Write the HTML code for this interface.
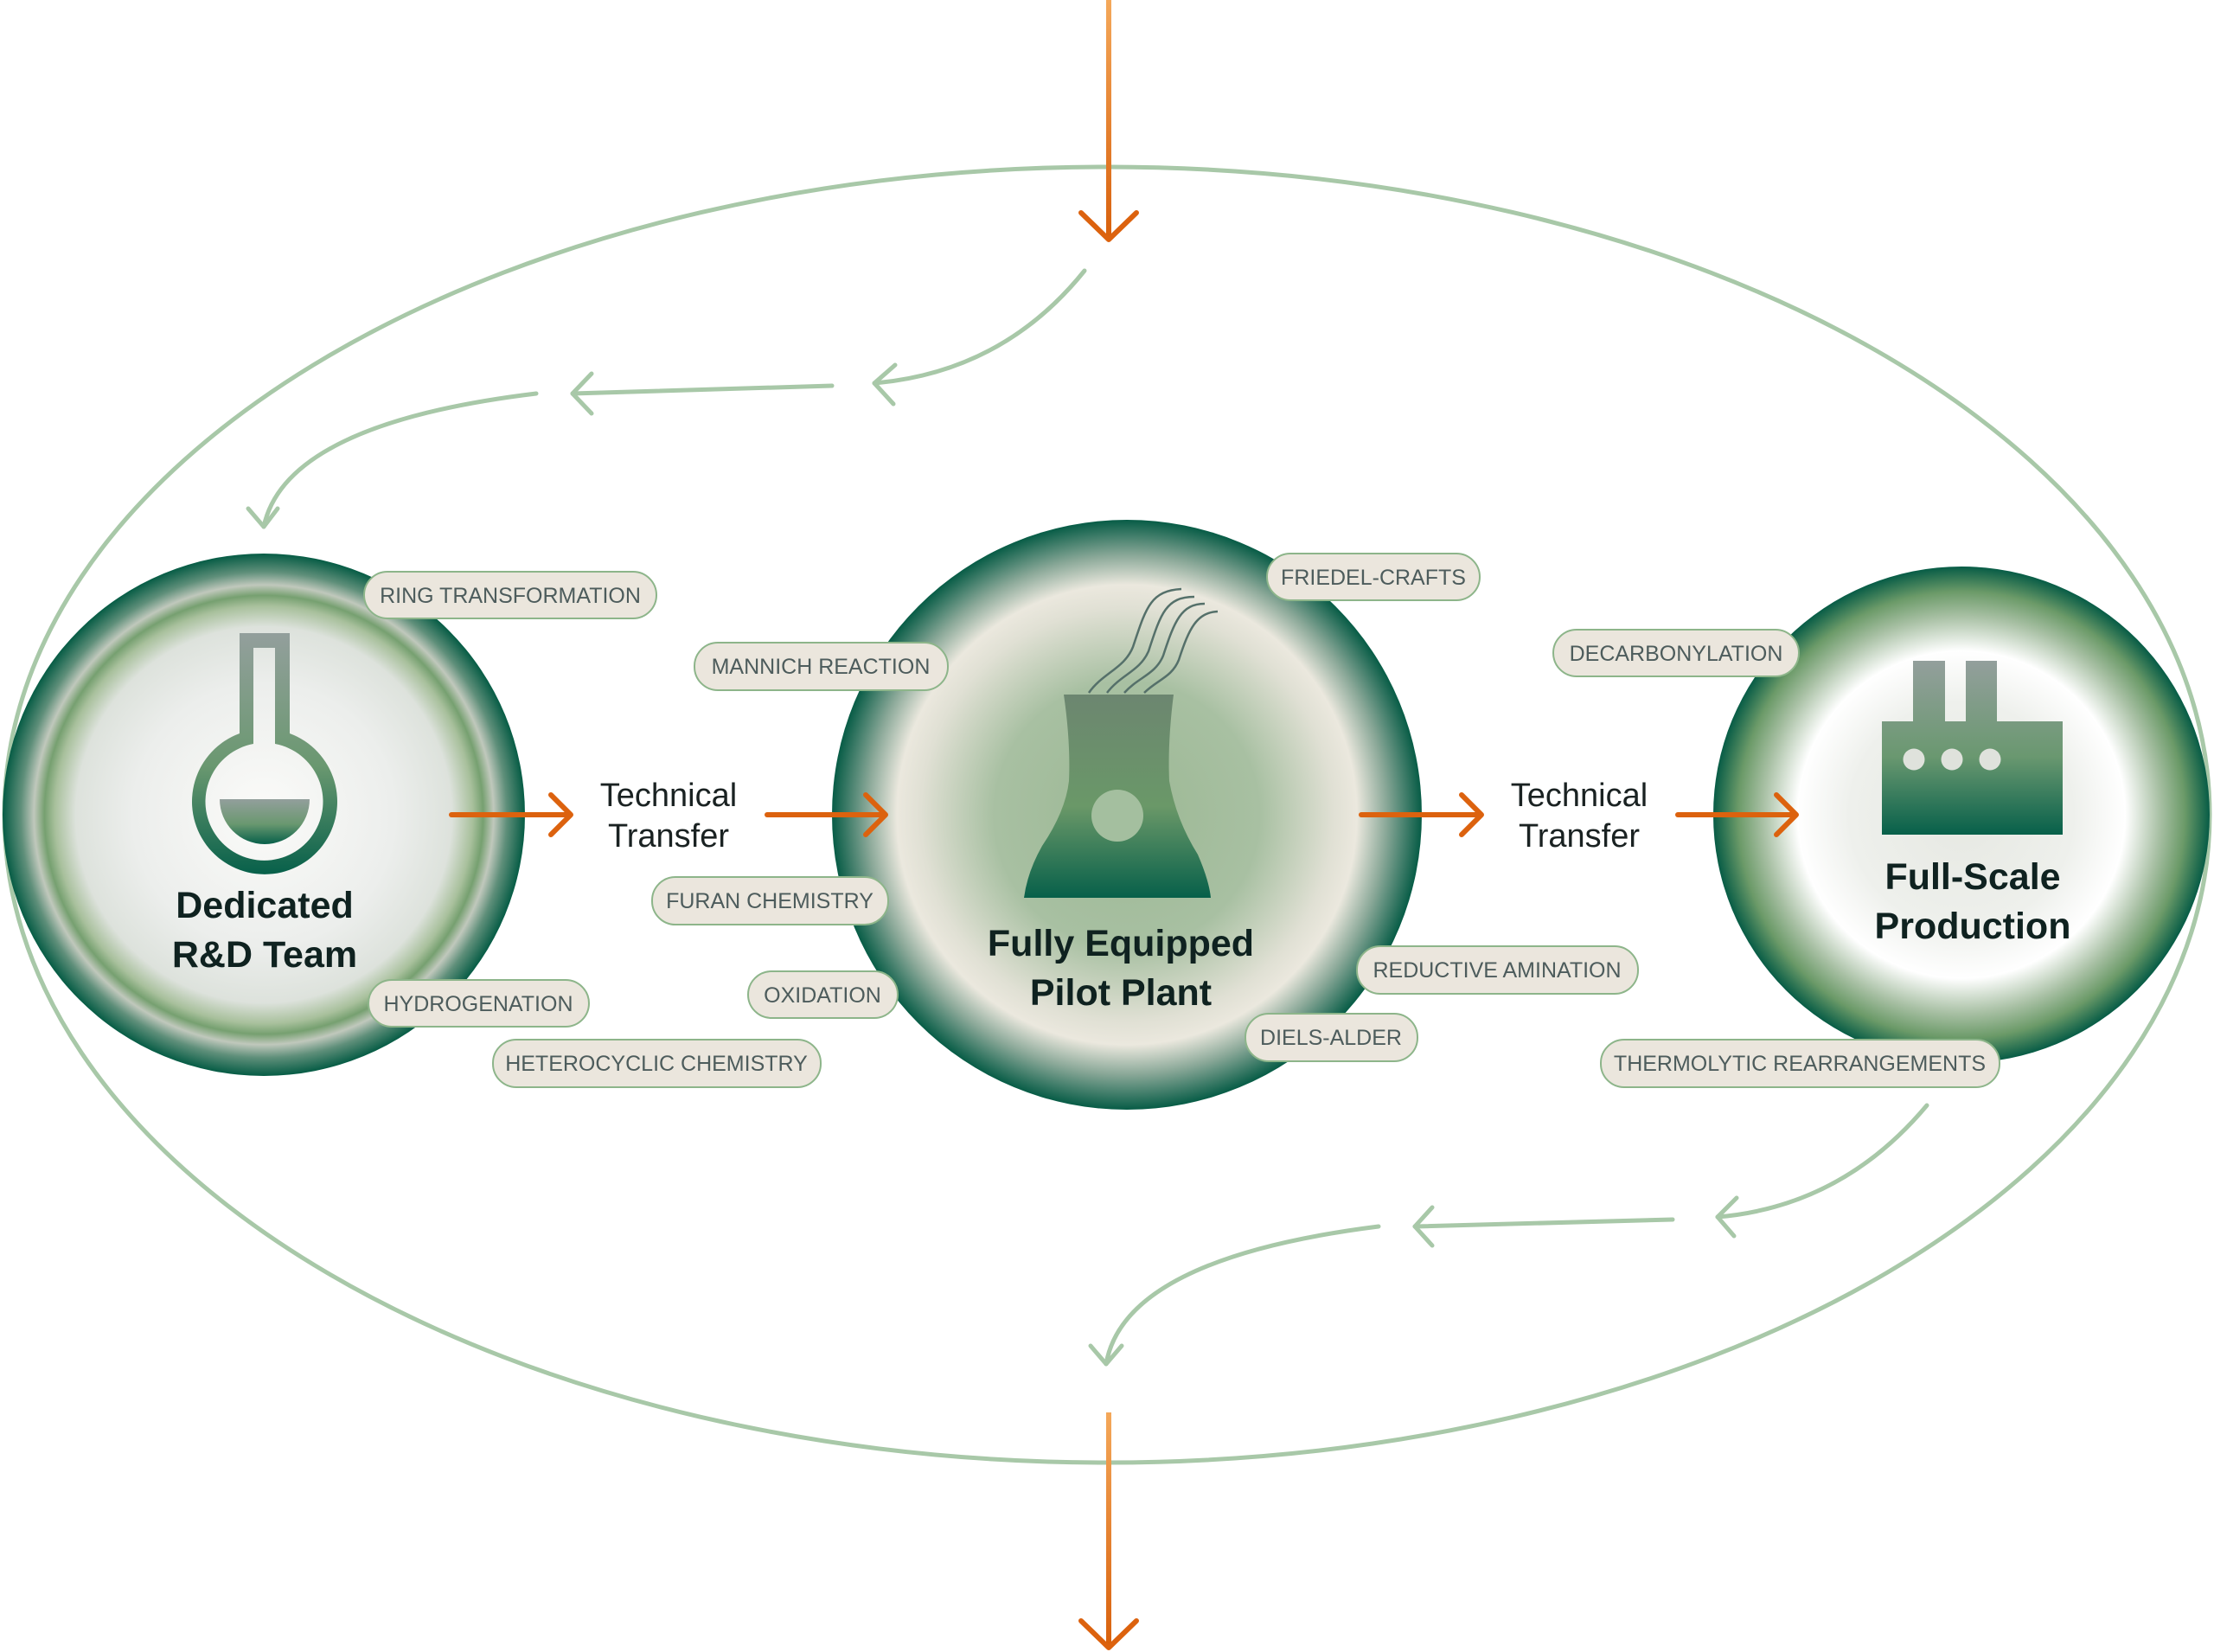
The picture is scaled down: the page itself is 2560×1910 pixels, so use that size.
<!DOCTYPE html>
<html><head><meta charset="utf-8"><style>
html,body{margin:0;padding:0;background:#fff;}
svg{display:block;}
text{font-family:"Liberation Sans",sans-serif;}
.p{fill:#ebe6dd;stroke:#8db58a;stroke-width:2;}
.pt{font-size:25px;fill:#4d5c5c;text-anchor:middle;}
.t{font-size:43px;font-weight:bold;fill:#0f2220;text-anchor:middle;}
.tt{font-size:38px;fill:#1a2222;text-anchor:middle;}
.g{fill:none;stroke:#a8c8a8;stroke-width:5;stroke-linecap:round;stroke-linejoin:round;}
.o{fill:none;stroke:#dc620e;stroke-width:6;stroke-linecap:round;stroke-linejoin:round;}
</style></head><body>
<svg width="2560" height="1910" viewBox="0 0 2560 1910" xmlns="http://www.w3.org/2000/svg">
<defs>
<radialGradient id="cL" cx="0.5" cy="0.5" r="0.5">
<stop offset="0" stop-color="#fbfbf9"/><stop offset="0.5" stop-color="#eceeec"/><stop offset="0.72" stop-color="#dde2dc"/>
<stop offset="0.8" stop-color="#a8c09c"/><stop offset="0.84" stop-color="#76a070"/><stop offset="0.88" stop-color="#c0c8bc"/>
<stop offset="0.93" stop-color="#5f8f7a"/><stop offset="1" stop-color="#065c45"/></radialGradient>
<radialGradient id="cC" cx="0.5" cy="0.5" r="0.5">
<stop offset="0" stop-color="#9cb894"/><stop offset="0.45" stop-color="#a8c0a2"/><stop offset="0.7" stop-color="#e0e0d4"/>
<stop offset="0.78" stop-color="#ebe8de"/><stop offset="0.88" stop-color="#8aa898"/><stop offset="1" stop-color="#075c46"/></radialGradient>
<radialGradient id="cR" cx="0.5" cy="0.5" r="0.5">
<stop offset="0" stop-color="#e6e8e2"/><stop offset="0.45" stop-color="#eef0ec"/><stop offset="0.66" stop-color="#ffffff"/>
<stop offset="0.8" stop-color="#a8c0a4"/><stop offset="0.9" stop-color="#6b9a68"/><stop offset="1" stop-color="#075c46"/></radialGradient>
<linearGradient id="ic" x1="0" y1="0" x2="0" y2="1">
<stop offset="0" stop-color="#939f9c"/><stop offset="0.55" stop-color="#6a9870"/><stop offset="1" stop-color="#07604a"/></linearGradient>
<linearGradient id="icT" x1="0" y1="0" x2="0" y2="1">
<stop offset="0" stop-color="#6c8670"/><stop offset="0.55" stop-color="#6a9868"/><stop offset="1" stop-color="#07604a"/></linearGradient>
<linearGradient id="or" x1="0" y1="0" x2="0" y2="1">
<stop offset="0" stop-color="#f4a85a"/><stop offset="1" stop-color="#d8600c"/></linearGradient>
</defs>

<ellipse cx="1280" cy="942" rx="1275" ry="749" fill="none" stroke="#a8c8a8" stroke-width="5"/>

<rect x="1279" y="0" width="6" height="276" fill="url(#or)"/>
<polyline class="o" points="1250,246 1282,277 1314,246"/>
<rect x="1279" y="1633" width="6" height="271" fill="url(#or)"/>
<polyline class="o" points="1250,1874 1282,1905 1314,1874"/>

<path class="g" d="M1254 313 Q1160 430 1011 443"/>
<polyline class="g" points="1035,422 1011,443 1033,467"/>
<path class="g" d="M962 446 L662 455"/>
<polyline class="g" points="684,432 662,455 684,478"/>
<path class="g" d="M620 455 Q330 490 305 609"/>
<polyline class="g" points="287,588 305,609 321,588"/>
<path class="g" d="M2228 1278 Q2130 1395 1986 1407"/>
<polyline class="g" points="2008,1385 1986,1407 2005,1429"/>
<path class="g" d="M1934 1410 L1636 1418"/>
<polyline class="g" points="1656,1396 1636,1418 1656,1440"/>
<path class="g" d="M1594 1418 Q1300 1455 1279 1577"/>
<polyline class="g" points="1261,1556 1279,1577 1297,1556"/>

<circle cx="305" cy="942" r="302" fill="url(#cL)"/>
<circle cx="1303" cy="942" r="341" fill="url(#cC)"/>
<circle cx="2268" cy="942" r="287" fill="url(#cR)"/>

<path fill="url(#ic)" fill-rule="evenodd" d="M277 732 H335 V848 A84 84 0 1 1 277 848 Z M293 749 V860 A68 68 0 1 0 318 860 V749 Z"/>
<path fill="url(#ic)" d="M254 924 H358 A52 52 0 0 1 254 924 Z"/>
<text class="t" x="306" y="1061">Dedicated</text>
<text class="t" x="306" y="1118">R&amp;D Team</text>

<g transform="translate(0,-12)">
<path fill="url(#icT)" d="M1230 815 H1357 Q1350 870 1352 915 Q1360 960 1385 1000 Q1398 1030 1400 1050 H1184 Q1188 1020 1205 990 Q1232 950 1236 915 Q1238 870 1230 815 Z"/>
<circle cx="1292" cy="955" r="30" fill="#a4bf9f"/>
<g fill="none" stroke="#55706a" stroke-width="2.5">
<path d="M1259 813 C1275 790 1300 785 1310 760 C1325 715 1330 695 1366 693"/>
<path d="M1280 813 C1296 792 1318 788 1328 765 C1342 722 1348 702 1381 702"/>
<path d="M1300 813 C1316 795 1336 792 1345 770 C1358 730 1366 710 1393 710"/>
<path d="M1323 813 C1338 798 1355 795 1363 775 C1375 738 1384 720 1408 719"/>
</g>
</g>
<text class="t" x="1296" y="1105">Fully Equipped</text>
<text class="t" x="1296" y="1162">Pilot Plant</text>

<path fill="url(#ic)" d="M2212 764 H2249 V834 H2273 V764 H2309 V834 H2385 V965 H2176 V834 H2212 Z"/>
<circle cx="2213" cy="878" r="12.5" fill="#dfe2dc"/>
<circle cx="2257" cy="878" r="12.5" fill="#dfe2dc"/>
<circle cx="2301" cy="878" r="12.5" fill="#dfe2dc"/>
<text class="t" x="2281" y="1028">Full‑Scale</text>
<text class="t" x="2281" y="1085">Production</text>

<line class="o" x1="522" y1="942" x2="659" y2="942"/><polyline class="o" points="637,919 660,942 637,965"/>
<line class="o" x1="887" y1="942" x2="1023" y2="942"/><polyline class="o" points="1001,919 1024,942 1001,965"/>
<line class="o" x1="1574" y1="942" x2="1712" y2="942"/><polyline class="o" points="1690,919 1713,942 1690,965"/>
<line class="o" x1="1940" y1="942" x2="2076" y2="942"/><polyline class="o" points="2054,919 2077,942 2054,965"/>
<text class="tt" x="773" y="932">Technical</text>
<text class="tt" x="773" y="979">Transfer</text>
<text class="tt" x="1826" y="932">Technical</text>
<text class="tt" x="1826" y="979">Transfer</text>

<rect class="p" x="421" y="661" width="338" height="54" rx="27"/><text class="pt" x="590" y="697">RING TRANSFORMATION</text>
<rect class="p" x="803" y="743" width="293" height="55" rx="27"/><text class="pt" x="949" y="779">MANNICH REACTION</text>
<rect class="p" x="1465" y="640" width="246" height="54" rx="27"/><text class="pt" x="1588" y="676">FRIEDEL‑CRAFTS</text>
<rect class="p" x="1796" y="728" width="284" height="54" rx="27"/><text class="pt" x="1938" y="764">DECARBONYLATION</text>
<rect class="p" x="754" y="1014" width="273" height="55" rx="27"/><text class="pt" x="890" y="1050">FURAN CHEMISTRY</text>
<rect class="p" x="865" y="1123" width="173" height="54" rx="27"/><text class="pt" x="951" y="1159">OXIDATION</text>
<rect class="p" x="426" y="1133" width="255" height="54" rx="27"/><text class="pt" x="553" y="1169">HYDROGENATION</text>
<rect class="p" x="570" y="1202" width="379" height="55" rx="27"/><text class="pt" x="759" y="1238">HETEROCYCLIC CHEMISTRY</text>
<rect class="p" x="1569" y="1094" width="325" height="55" rx="27"/><text class="pt" x="1731" y="1130">REDUCTIVE AMINATION</text>
<rect class="p" x="1440" y="1172" width="199" height="55" rx="27"/><text class="pt" x="1539" y="1208">DIELS‑ALDER</text>
<rect class="p" x="1851" y="1202" width="461" height="55" rx="27"/><text class="pt" x="2081" y="1238">THERMOLYTIC REARRANGEMENTS</text>
</svg>
</body></html>
